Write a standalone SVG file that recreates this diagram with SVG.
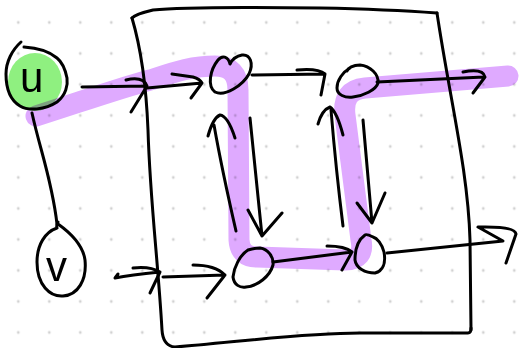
<svg xmlns="http://www.w3.org/2000/svg" width="522" height="348" viewBox="0 0 522 348">
<style>
.ink{fill:none;stroke:#000;stroke-width:3;stroke-linecap:round;stroke-linejoin:round}
.lbl{font-family:"Liberation Sans",Arial,sans-serif;font-size:42px;fill:#000}
.hl{fill:none;stroke:#dfaaff;stroke-width:21;stroke-linecap:round;stroke-linejoin:round;mix-blend-mode:multiply}
</style>
<defs>
<pattern id="dots" x="18.3" y="22.5" width="31" height="31" patternUnits="userSpaceOnUse">
<circle cx="0" cy="0" r="1.4" fill="#d2d2d2"/><circle cx="31" cy="0" r="1.4" fill="#d2d2d2"/><circle cx="0" cy="31" r="1.4" fill="#d2d2d2"/><circle cx="31" cy="31" r="1.4" fill="#d2d2d2"/>
</pattern>
</defs>
<rect width="522" height="348" fill="#fff"/>
<rect width="522" height="348" fill="url(#dots)"/>
<g id="u-fill"><ellipse cx="35" cy="82" rx="27" ry="29" fill="#8ff080"/></g>
<path class="hl" d="M36,116 C80,102 120,88 150,80 C175,72 192,66 215,66 Q238,66 238,90 L239,240 Q240,257 257,257 L345,260 Q365,260 361,240 L345,115 Q342,90 365,88 L508,76"/>
<g id="frame">
<path class="ink" d="M132,18 Q136,14 153,10 C180,7 250,7 320,8 C370,9 410,11 437,13"/>
<path class="ink" d="M437,13 C450,100 468,170 470,240 L471,330"/>
<path class="ink" d="M132,18 C140,45 146,80 148,130 C150,200 158,260 162,330 Q163,346 175,347 C230,343 300,333 360,333 L468,333 Q471,333 471,328"/>
</g>
<g id="connectors">
<path class="ink" d="M32,113 C40,150 52,180 57,224"/>
<path class="ink" d="M82,87 L147,86 M126,80 Q143,76 147,86 L131,112"/>
<path class="ink" d="M147,88 L202,83 M172,74 L193,77 Q200,79 202,83 L191,98"/>
<path class="ink" d="M252,75 L325,74 M297,70 Q318,68 325,74 L321,95"/>
<path class="ink" d="M377,82 L484,77 M463,72 Q483,68 485,77 L473,93"/>
<path class="ink" d="M250,118 L262,236 M248,210 L262,236 L282,213"/>
<path class="ink" d="M236,231 Q222,170 214,125 M208,136 Q213,118 220,115 Q228,116 235,138"/>
<path class="ink" d="M273,262 L352,252 M327,246 Q345,246 352,252 L342,270"/>
<path class="ink" d="M343,226 Q336,170 331,110 M318,124 Q322,110 330,107 Q337,112 343,135"/>
<path class="ink" d="M363,120 L372,223 M357,203 L372,223 L385,193"/>
<path class="ink" d="M387,253 L503,241 L478,227 Q515,226 516,234 L506,263"/>
<path class="ink" d="M118,274 L115,278 Q130,275 160,272 M133,268 Q150,266 160,272 L150,293"/>
<path class="ink" d="M163,277 L225,275 M193,265 Q215,265 225,275 L207,298"/>
</g>
<g id="u">
<path class="ink" d="M21,42 C12,50 6,62 6,74 C6,88 10,100 20,106 C28,111 45,110 57,102 C66,95 68,85 67,78 C65,68 62,62 57,58 C50,52 40,48 24,47"/>
<text class="lbl" x="20" y="92">u</text>
</g>
<g id="v">
<path class="ink" d="M58,222 Q56,226 57,228 C45,232 37,245 37,262 C37,285 50,297 63,296 C78,295 87,280 85,260 C83,245 72,234 58,224"/>
<text class="lbl" x="46" y="281">v</text>
</g>
<g id="A"><path class="ink" d="M230,64 C228,56 222,55 218,60 C210,70 207,86 215,92 C225,97 243,85 249,74 C254,63 250,54 242,55 C236,56 232,60 230,64"/></g>
<g id="B"><path class="ink" d="M350,68 C343,72 337,80 337,88 C337,95 345,98 353,97 C363,96 376,90 378,83 C379,74 370,66 360,65 C353,65 348,68 347,71"/></g>
<g id="C"><path class="ink" d="M248,250 C240,255 234,267 233,277 C234,285 240,288 246,287 C258,286 270,276 273,265 C274,257 268,249 260,248 C255,248 251,249 248,250"/></g>
<g id="D"><path class="ink" d="M365,235 C358,240 355,250 355,260 C356,268 365,273 375,273 C383,271 386,263 384,252 C382,244 377,238 373,237 C369,235 366,234 365,235"/></g>
</svg>
